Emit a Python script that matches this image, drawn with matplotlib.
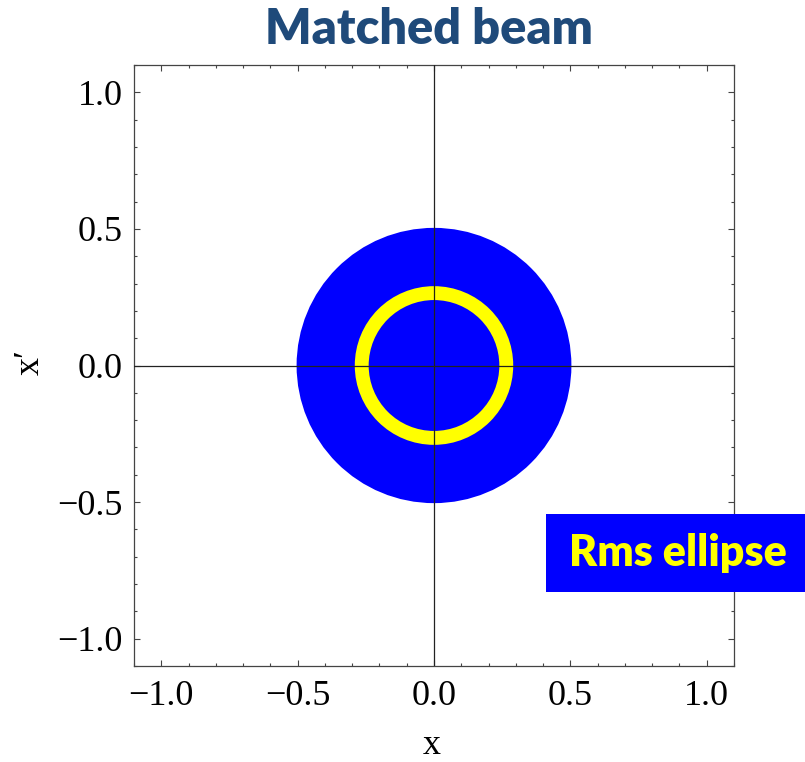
import matplotlib
matplotlib.use("Agg")
import matplotlib.pyplot as plt
from matplotlib.patches import Circle
from matplotlib.ticker import MultipleLocator

# Beam phase-space content (x, x') in normalised units
beam_center = (0.0, 0.0)
beam_radius = 0.5          # outer edge of the particle distribution
rms_radius = 0.265         # rms ellipse (circle for a matched beam)

title_text = "Matched beam"
box_text = "Rms ellipse"
major_ticks = [-1.0, -0.5, 0.0, 0.5, 1.0]
tick_labels = ["\u22121.0", "\u22120.5", "0.0", "0.5", "1.0"]

fig = plt.figure(figsize=(8.05, 7.62), dpi=100)
ax = fig.add_axes([134 / 805, 1 - 666 / 762, 600 / 805, 601 / 762])
ax.set_xlim(-1.1, 1.1)
ax.set_ylim(-1.1, 1.1)

beam = Circle(beam_center, beam_radius, facecolor="#0000ff", edgecolor="#0000ff",
              linewidth=1.5, zorder=2)
ax.add_patch(beam)
rms = Circle(beam_center, rms_radius, facecolor="none", edgecolor="#ffff00",
             linewidth=10, zorder=3)
ax.add_patch(rms)

ax.axhline(0, color="#222222", linewidth=0.9, zorder=4)
ax.axvline(0, color="#222222", linewidth=0.9, zorder=4)

serif = ["Liberation Serif", "DejaVu Serif"]
ax.set_xticks(major_ticks)
ax.set_yticks(major_ticks)
ax.set_xticklabels(tick_labels, fontfamily=serif, fontsize=26)
ax.set_yticklabels(tick_labels, fontfamily=serif, fontsize=26)
ax.xaxis.set_minor_locator(MultipleLocator(0.1))
ax.yaxis.set_minor_locator(MultipleLocator(0.1))
ax.tick_params(which="both", direction="in", top=True, right=True,
               color="#444444", width=0.8)
ax.tick_params(which="major", length=4, pad=10)
ax.tick_params(which="minor", length=2.5)
ax.tick_params(axis="y", which="major", pad=8)
for s in ax.spines.values():
    s.set_color("#444444")
    s.set_linewidth(0.9)

fig.text(432 / 805, 1 - 745 / 762, "x", ha="center", va="center",
         fontfamily=serif, fontsize=26)
fig.text(30 / 805, 1 - 362 / 762, "x\u2032", ha="center", va="center",
         rotation=90, fontfamily=serif, fontsize=26)

fig.text(429 / 805, 1 - 30 / 762, title_text, ha="center", va="center",
         fontfamily="Lato", fontweight="heavy", fontsize=35, color="#1f4a7a")

fig.patches.append(plt.Rectangle((546 / 805, 1 - 592 / 762), 259 / 805, 78 / 762,
                                 transform=fig.transFigure, facecolor="#0000ff",
                                 edgecolor="none", zorder=5))
fig.text(678 / 805, 1 - 553 / 762, box_text, ha="center", va="center",
         fontfamily="Lato", fontweight="heavy", fontsize=31, color="#ffff00", zorder=6)

fig.savefig("out.png", dpi=100)
